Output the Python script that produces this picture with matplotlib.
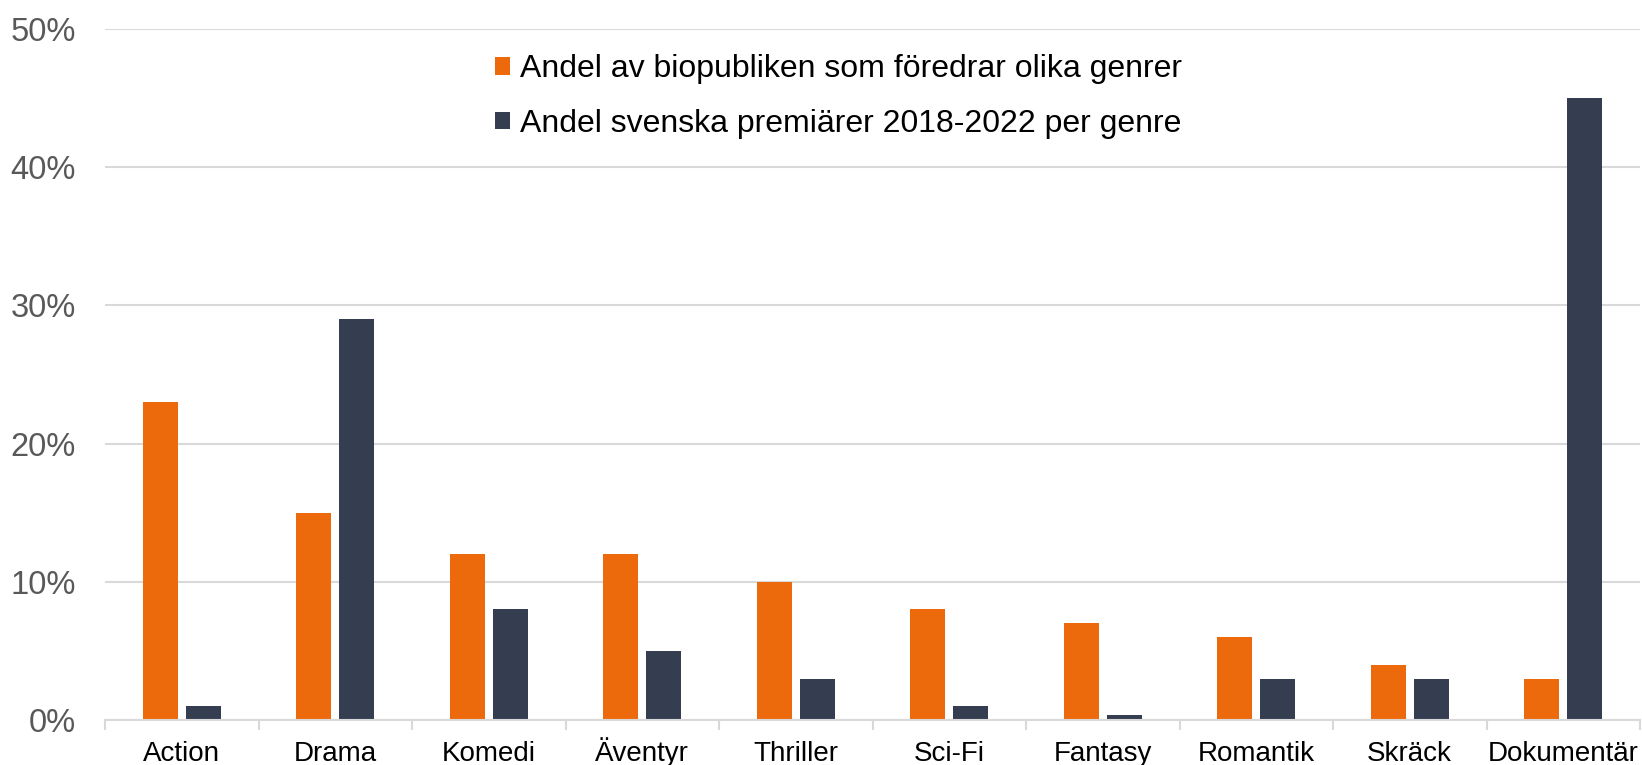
import numpy as np
import matplotlib
matplotlib.use("Agg")
import matplotlib.pyplot as plt
from matplotlib.ticker import FuncFormatter, FixedLocator

plt.rcParams['font.family'] = ['Liberation Sans', 'DejaVu Sans']

genres = ["Action", "Drama", "Komedi", "Äventyr", "Thriller", "Sci-Fi",
          "Fantasy", "Romantik", "Skräck", "Dokumentär"]
audience_pct = [23, 15, 12, 12, 10, 8, 7, 6, 4, 3]
premieres_pct = [1, 29, 8, 5, 3, 1, 0.35, 3, 3, 45]
series_labels = ["Andel av biopubliken som föredrar olika genrer",
                 "Andel svenska premiärer 2018-2022 per genre"]

orange = "#EC6A0C"
navy = "#343E50"
grid_col = "#D9D9D9"

fig = plt.figure(figsize=(16.42, 7.65), dpi=100)
ax = fig.add_axes([105/1642, 1 - 720/765, 1535/1642, 691/765])

x = np.arange(len(genres))
w = 0.225
off = 0.14
b1 = ax.bar(x - off, np.array(audience_pct) / 100, width=w, color=orange, zorder=3,
            label=series_labels[0])
b2 = ax.bar(x + off, np.array(premieres_pct) / 100, width=w, color=navy, zorder=3,
            label=series_labels[1])

ax.set_xlim(-0.5, len(genres) - 0.5)
ax.set_ylim(0, 0.5)
ax.set_yticks(np.arange(0, 0.51, 0.1))
ax.yaxis.set_major_formatter(FuncFormatter(lambda v, p: f"{v*100:.0f}%"))
ax.grid(axis='y', color=grid_col, linewidth=1.5, zorder=0)
ax.tick_params(axis='y', length=0, pad=21, labelsize=23.5, labelcolor="#595959")

ax.set_xticks(x)
ax.set_xticklabels(genres)
for lab in ax.get_xticklabels():
    lab.set_verticalalignment('baseline')
ax.xaxis.set_minor_locator(FixedLocator(np.arange(-0.5, len(genres), 1.0)))
ax.tick_params(axis='x', which='major', length=0, pad=29.5, labelsize=20, labelcolor="black")
ax.tick_params(axis='x', which='minor', length=7, width=1.5, color=grid_col)

for s in ("top", "right", "left"):
    ax.spines[s].set_visible(False)
ax.spines["bottom"].set_color(grid_col)
ax.spines["bottom"].set_linewidth(1.5)
ax.spines["bottom"].set_zorder(4)

ax.legend(handles=[b1, b2], loc="upper left", bbox_to_anchor=(495/1642, 1 - 54/765),
          bbox_transform=fig.transFigure, frameon=False, fontsize=23,
          handlelength=0.48, handleheight=0.48, handletextpad=0.3,
          labelspacing=0.78, borderpad=0, borderaxespad=0)

fig.savefig("out.png", dpi=100)
